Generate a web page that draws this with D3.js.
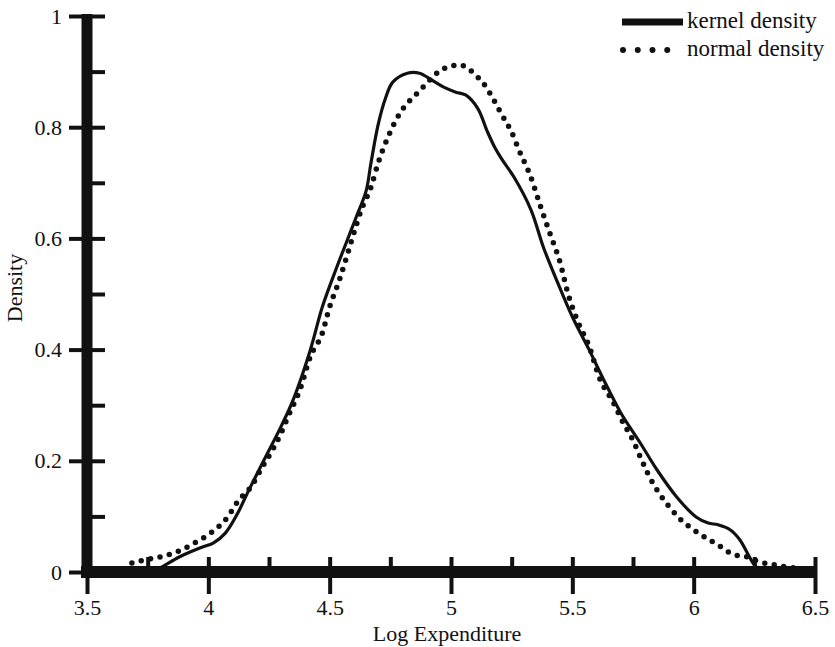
<!DOCTYPE html>
<head>
  <meta charset="utf-8">
  <style>
    body {
      margin: 0;
      background: #fff;
    }
    svg text {
      font-family: 'Liberation Serif', 'Times New Roman', serif;
      fill: #111;
    }
  </style>
  <script src="https://cdn.jsdelivr.net/npm/d3@7"></script>
</head>
<body>
<div id=chart-container></div>

<script>
// kernel density estimate
const kernel_x = [3.76, 3.80, 3.88, 3.97, 4.02, 4.07, 4.12, 4.17, 4.23, 4.30, 4.35, 4.42, 4.47, 4.53, 4.57, 4.61, 4.65, 4.67, 4.70, 4.73, 4.76, 4.82, 4.87, 4.92, 4.97, 5.02, 5.06, 5.11, 5.15, 5.18, 5.21, 5.26, 5.33, 5.38, 5.44, 5.50, 5.57, 5.63, 5.70, 5.78, 5.85, 5.93, 6.01, 6.06, 6.10, 6.15, 6.19, 6.23, 6.25, 6.28]
const kernel_y = [0, 0.007, 0.027, 0.044, 0.052, 0.07, 0.105, 0.15, 0.202, 0.262, 0.31, 0.399, 0.477, 0.549, 0.594, 0.639, 0.685, 0.735, 0.805, 0.852, 0.881, 0.897, 0.897, 0.885, 0.872, 0.863, 0.858, 0.834, 0.792, 0.764, 0.742, 0.71, 0.651, 0.585, 0.52, 0.459, 0.399, 0.345, 0.286, 0.232, 0.183, 0.135, 0.099, 0.088, 0.085, 0.076, 0.058, 0.027, 0.013, 0]

// normal density
const normal_x = [3.685, 3.74, 3.80, 3.88, 3.95, 4.015, 4.08, 4.12, 4.18, 4.22, 4.26, 4.30, 4.33, 4.38, 4.42, 4.47, 4.50, 4.54, 4.57, 4.60, 4.63, 4.67, 4.70, 4.74, 4.78, 4.81, 4.84, 4.87, 4.90, 4.95, 5.00, 5.03, 5.07, 5.10, 5.13, 5.17, 5.21, 5.25, 5.28, 5.33, 5.37, 5.41, 5.45, 5.48, 5.52, 5.57, 5.61, 5.67, 5.71, 5.75, 5.78, 5.81, 5.85, 5.90, 5.94, 6.00, 6.06, 6.10, 6.13, 6.16, 6.22, 6.27, 6.32, 6.40, 6.47]
const normal_y = [0.016, 0.022, 0.027, 0.038, 0.054, 0.072, 0.099, 0.126, 0.156, 0.187, 0.216, 0.25, 0.281, 0.331, 0.387, 0.43, 0.477, 0.525, 0.567, 0.61, 0.651, 0.692, 0.736, 0.782, 0.818, 0.838, 0.852, 0.865, 0.879, 0.90, 0.91, 0.912, 0.906, 0.894, 0.881, 0.854, 0.822, 0.791, 0.759, 0.709, 0.656, 0.606, 0.556, 0.504, 0.453, 0.405, 0.351, 0.304, 0.268, 0.237, 0.207, 0.178, 0.147, 0.117, 0.097, 0.076, 0.059, 0.049, 0.04, 0.032, 0.027, 0.018, 0.014, 0.008, 0.005]

// ticks
const x_major = [3.5, 4, 4.5, 5, 5.5, 6, 6.5]
const x_minor = [3.75, 4.25, 4.75, 5.25, 5.75, 6.25]
const y_major = [0, 0.2, 0.4, 0.6, 0.8, 1]
const y_minor = [0.1, 0.3, 0.5, 0.7, 0.9]

const legend_labels = ['kernel density', 'normal density']

const width = 835
const height = 647
const ink = '#111'
const serif = "'Liberation Serif', 'Times New Roman', serif"
const font_size = 22

const x = d3.scaleLinear().domain([3.5, 6.5]).range([87, 815])
const y = d3.scaleLinear().domain([0, 1]).range([572, 16])

const svg = d3.create('svg')
  .attr('width', width)
  .attr('height', height)
  .attr('viewBox', [0, 0, width, height])
  .attr('font-family', serif)
d3.select('#chart-container').append(() => svg.node())

const style_axis = g => {
  g.attr('font-family', serif)
  g.select('.domain').remove()
  g.selectAll('.tick line').attr('stroke', ink).attr('stroke-width', 4)
  g.selectAll('.tick text').attr('font-size', font_size).attr('fill', ink)
}

// x axis: ticks above for all, below + labels for majors
svg.append('g')
  .attr('transform', `translate(0,${y(0)})`)
  .call(d3.axisTop(x).tickValues([...x_major.slice(1), ...x_minor]).tickSize(15).tickFormat(''))
  .call(style_axis)
svg.append('g')
  .attr('transform', `translate(0,${y(0)})`)
  .call(d3.axisBottom(x).tickValues(x_major).tickSize(22).tickPadding(5).tickFormat(d3.format('')))
  .call(style_axis)

// y axis: ticks right for all, left + labels for majors
svg.append('g')
  .attr('transform', `translate(${x(3.5)},0)`)
  .call(d3.axisRight(y).tickValues([...y_major, ...y_minor]).tickSize(18).tickFormat(''))
  .call(style_axis)
svg.append('g')
  .attr('transform', `translate(${x(3.5)},0)`)
  .call(d3.axisLeft(y).tickValues(y_major).tickSize(18).tickPadding(7).tickFormat(d3.format('')))
  .call(style_axis)

// thick axis bars
svg.append('line')
  .attr('x1', x(3.5) - 6).attr('x2', x(6.5) + 2)
  .attr('y1', y(0)).attr('y2', y(0))
  .attr('stroke', ink).attr('stroke-width', 12)
svg.append('line')
  .attr('x1', x(3.5)).attr('x2', x(3.5))
  .attr('y1', y(1) - 2).attr('y2', y(0) + 6)
  .attr('stroke', ink).attr('stroke-width', 11)

// axis titles
svg.append('text')
  .attr('x', 447).attr('y', 641)
  .attr('text-anchor', 'middle')
  .attr('font-size', font_size)
  .text('Log Expenditure')
svg.append('text')
  .attr('transform', 'translate(22,288) rotate(-90)')
  .attr('text-anchor', 'middle')
  .attr('font-size', font_size)
  .text('Density')

// curves
const line = d3.line()
  .x(d => x(d[0]))
  .y(d => y(d[1]))

svg.append('path')
  .attr('d', line.curve(d3.curveMonotoneX)(d3.zip(normal_x, normal_y)))
  .attr('fill', 'none')
  .attr('stroke', ink)
  .attr('stroke-width', 5.5)
  .attr('stroke-linecap', 'round')
  .attr('stroke-dasharray', '0 9.6')

svg.append('path')
  .attr('d', line.curve(d3.curveCatmullRom.alpha(0.5))(d3.zip(kernel_x, kernel_y)))
  .attr('fill', 'none')
  .attr('stroke', ink)
  .attr('stroke-width', 3.2)

// legend
const legend = svg.append('g')
legend.append('line')
  .attr('x1', 622).attr('x2', 683)
  .attr('y1', 22).attr('y2', 22)
  .attr('stroke', ink).attr('stroke-width', 7)
legend.append('line')
  .attr('x1', 623).attr('x2', 682)
  .attr('y1', 50).attr('y2', 50)
  .attr('stroke', ink).attr('stroke-width', 6)
  .attr('stroke-linecap', 'round')
  .attr('stroke-dasharray', '0 14.75')
legend.selectAll('text')
  .data(legend_labels)
  .join('text')
  .attr('x', 687)
  .attr('y', (d, i) => 28 + i * 28)
  .attr('font-size', 23)
  .text(d => d)
</script>
</body>
